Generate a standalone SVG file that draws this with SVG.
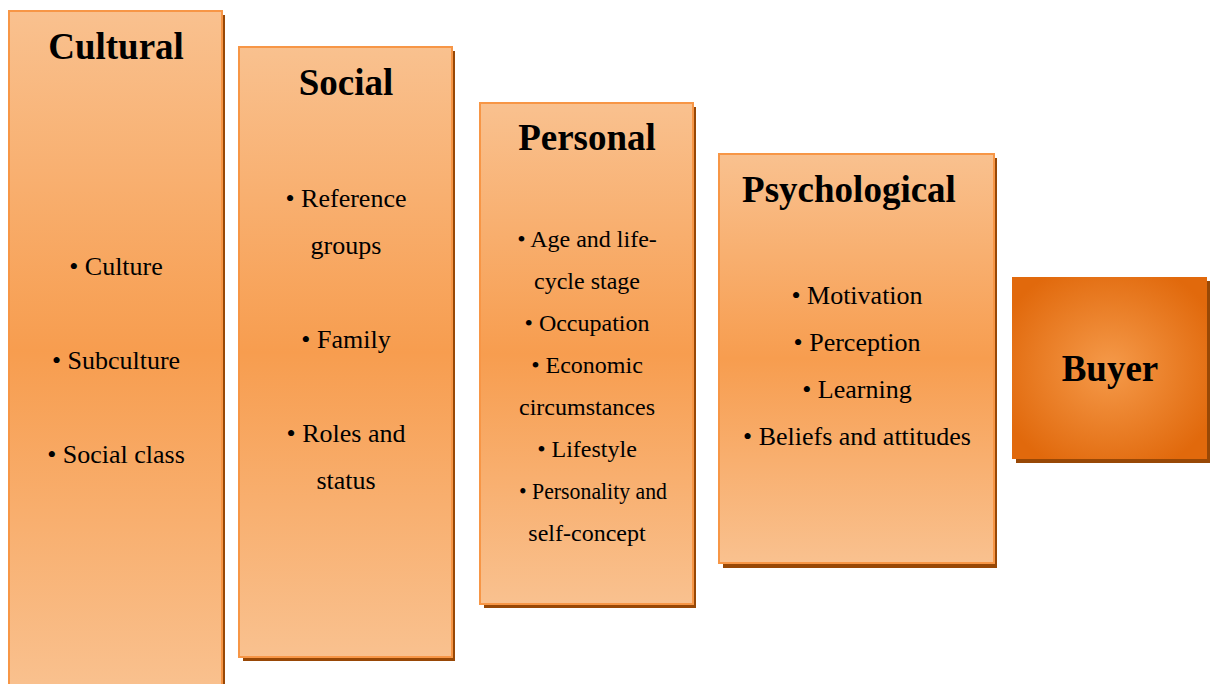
<svg xmlns="http://www.w3.org/2000/svg" width="1211" height="684" viewBox="0 0 1211 684">
<defs>
<linearGradient id="g" x1="0" y1="0" x2="0" y2="1">
<stop offset="0" stop-color="#f9c18f"/>
<stop offset="0.5" stop-color="#f79d4f"/>
<stop offset="1" stop-color="#f9c18f"/>
</linearGradient>
<radialGradient id="rb" cx="0.5" cy="0.5" r="0.6">
<stop offset="0" stop-color="#f59a4a"/>
<stop offset="1" stop-color="#e1690c"/>
</radialGradient>
</defs>
<style>
.sh{fill:#984806}
.bx{fill:url(#g);stroke:#f79646;stroke-width:2}
.t{font-family:"Liberation Serif","Times New Roman",serif;font-weight:bold;font-size:37px;fill:#000;text-anchor:middle}
.i{font-family:"Liberation Serif","Times New Roman",serif;font-size:26px;fill:#000;text-anchor:middle}
.p{font-family:"Liberation Serif","Times New Roman",serif;font-size:24px;fill:#000;text-anchor:middle}
</style>
<g id="cultural">
<rect class="sh" x="13" y="15" width="212" height="680"/>
<rect class="bx" x="9" y="11" width="213" height="680"/>
<text class="t" x="116" y="59">Cultural</text>
<text class="i" x="116" y="275">• Culture</text>
<text class="i" x="116" y="369">• Subculture</text>
<text class="i" x="116" y="463">• Social class</text>
</g>
<g id="social">
<rect class="sh" x="243" y="51" width="212" height="610"/>
<rect class="bx" x="239" y="47" width="213" height="610"/>
<text class="t" x="346" y="95">Social</text>
<text class="i" x="346" y="207">• Reference</text>
<text class="i" x="346" y="254">groups</text>
<text class="i" x="346" y="348">• Family</text>
<text class="i" x="346" y="442">• Roles and</text>
<text class="i" x="346" y="489">status</text>
</g>
<g id="personal">
<rect class="sh" x="484" y="107" width="212" height="501"/>
<rect class="bx" x="480" y="103" width="213" height="501"/>
<text class="t" x="587" y="150">Personal</text>
<text class="p" x="587" y="247">• Age and life-</text>
<text class="p" x="587" y="289">cycle stage</text>
<text class="p" x="587" y="331">• Occupation</text>
<text class="p" x="587" y="373">• Economic</text>
<text class="p" x="587" y="415">circumstances</text>
<text class="p" x="587" y="457">• Lifestyle</text>
<text class="p" x="593" y="499" textLength="148" lengthAdjust="spacingAndGlyphs">• Personality and</text>
<text class="p" x="587" y="541">self-concept</text>
</g>
<g id="psychological">
<rect class="sh" x="723" y="158" width="274" height="410"/>
<rect class="bx" x="719" y="154" width="275" height="409"/>
<text class="t" x="849" y="202">Psychological</text>
<text class="i" x="857" y="304">• Motivation</text>
<text class="i" x="857" y="351">• Perception</text>
<text class="i" x="857" y="398">• Learning</text>
<text class="i" x="857" y="445">• Beliefs and attitudes</text>
</g>
<g id="buyer">
<rect class="sh" x="1016" y="281" width="194" height="182"/>
<rect x="1012" y="277" width="195" height="182" fill="url(#rb)"/>
<text class="t" x="1110" y="381">Buyer</text>
</g>
<g id="connectors"/>
</svg>
